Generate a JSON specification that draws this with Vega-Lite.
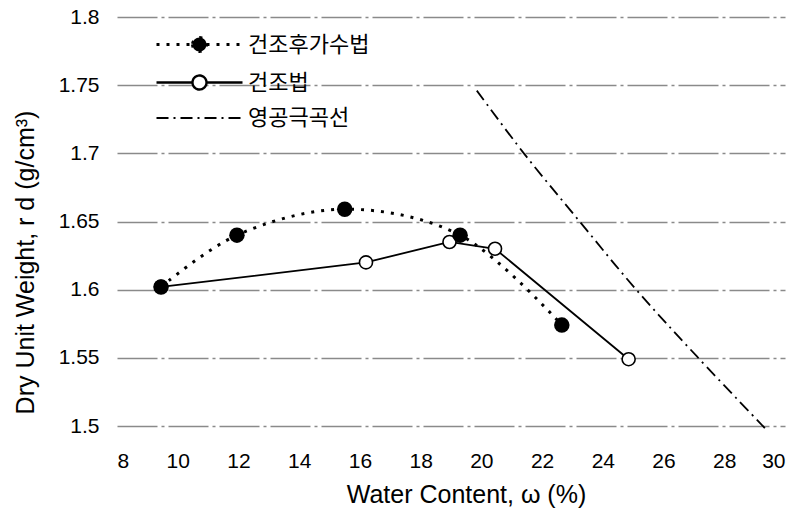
{
  "$schema": "https://vega.github.io/schema/vega-lite/v6.json",
  "autosize": "none",
  "width": 668,
  "height": 409,
  "padding": {"left": 117, "top": 17, "right": 16, "bottom": 92},
  "background": "white",
  "config": {
    "view": {"stroke": null},
    "font": "Liberation Sans",
    "axis": {"labelColor": "black", "titleColor": "black", "labelFontSize": 21, "titleFontSize": 25, "titleFontWeight": "normal", "domain": false, "ticks": false}
  },
  "data": {
    "values": [
      {"series": "건조후가수법", "w": 9.45, "g": 1.602},
      {"series": "건조후가수법", "w": 11.95, "g": 1.640},
      {"series": "건조후가수법", "w": 15.5, "g": 1.659},
      {"series": "건조후가수법", "w": 19.3, "g": 1.640},
      {"series": "건조후가수법", "w": 22.65, "g": 1.574},
      {"series": "건조법", "w": 9.45, "g": 1.602},
      {"series": "건조법", "w": 16.2, "g": 1.620},
      {"series": "건조법", "w": 18.95, "g": 1.635},
      {"series": "건조법", "w": 20.45, "g": 1.630},
      {"series": "건조법", "w": 24.85, "g": 1.549},
      {"series": "영공극곡선", "w": 19.85, "g": 1.746},
      {"series": "영공극곡선", "w": 21.4, "g": 1.700},
      {"series": "영공극곡선", "w": 23.2, "g": 1.651},
      {"series": "영공극곡선", "w": 25.1, "g": 1.600},
      {"series": "영공극곡선", "w": 27.1, "g": 1.551},
      {"series": "영공극곡선", "w": 29.4, "g": 1.497}
    ]
  },
  "encoding": {
    "x": {"field": "w", "type": "quantitative", "scale": {"domain": [8, 30], "nice": false},
      "axis": {"values": [8,10,12,14,16,18,20,22,24,26,28,30], "grid": false, "labelPadding": 24, "title": "Water Content, ω (%)", "titlePadding": 11, "titleX": 349}},
    "y": {"field": "g", "type": "quantitative", "scale": {"domain": [1.5, 1.8], "nice": false, "zero": false},
      "axis": {"values": [1.5,1.55,1.6,1.65,1.7,1.75,1.8], "format": ".2~f", "grid": true, "gridColor": "#8a8a8a", "gridDash": [40, 4, 3, 4], "gridWidth": 1.5, "labelPadding": 18, "title": "Dry Unit Weight, r d (g/cm³)", "titlePadding": 20, "titleY": 245}}
  },
  "layer": [
    {
      "transform": [{"filter": "datum.series != '건조법'"}],
      "mark": {"type": "line", "interpolate": "catmull-rom"},
      "encoding": {
        "color": {"field": "series", "type": "nominal",
          "scale": {"domain": ["건조후가수법", "건조법", "영공극곡선"], "range": ["black", "black", "black"]},
          "legend": {
            "title": null, "orient": "none", "legendX": 71, "legendY": 16, "padding": 0,
            "labelFont": "Noto Sans CJK KR", "labelFontSize": 22, "labelColor": "black",
            "symbolSize": 400, "rowPadding": 12, "labelOffset": 37,
            "encode": {"symbols": {"update": {
              "shape": {"signal": "datum.value == '건조후가수법' ? 'M-4.3,0H4.3M-0.7,0A0.7,0.7,0,1,0,0.7,0A0.7,0.7,0,1,0,-0.7,0Z' : datum.value == '건조법' ? 'M-4.3,0H-0.7M0.7,0H4.3M-0.7,0A0.7,0.7,0,1,0,0.7,0A0.7,0.7,0,1,0,-0.7,0Z' : 'M-4.3,0H4.3'"},
              "strokeDash": {"signal": "datum.value == '건조후가수법' ? [3,6] : datum.value == '건조법' ? [1,0] : [12,5,2,5]"},
              "fill": {"signal": "datum.value == '건조후가수법' ? 'black' : datum.value == '건조법' ? 'white' : 'transparent'"},
              "stroke": {"value": "black"},
              "strokeWidth": {"signal": "datum.value == '건조후가수법' ? 3 : 1.6"},
              "size": {"value": 400},
              "opacity": {"value": 1}
            }}}
          }},
        "strokeDash": {"field": "series", "type": "nominal",
          "scale": {"domain": ["건조후가수법", "건조법", "영공극곡선"], "range": [[3, 7], [1, 0], [12, 5, 2, 5]]}, "legend": null},
        "strokeWidth": {"field": "series", "type": "nominal",
          "scale": {"domain": ["건조후가수법", "건조법", "영공극곡선"], "range": [3, 1.8, 1.5]}, "legend": null}
      }
    },
    {
      "transform": [{"filter": "datum.series == '건조법'"}],
      "mark": {"type": "line", "interpolate": "linear", "color": "black", "strokeWidth": 1.8}
    },
    {
      "transform": [{"filter": "datum.series == '건조법'"}],
      "mark": {"type": "point", "shape": "circle", "filled": false, "fill": "white", "stroke": "black", "strokeWidth": 1.6, "size": 170, "opacity": 1}
    },
    {
      "transform": [{"filter": "datum.series == '건조후가수법'"}],
      "mark": {"type": "point", "shape": "circle", "filled": true, "color": "black", "size": 240, "opacity": 1}
    }
  ]
}
